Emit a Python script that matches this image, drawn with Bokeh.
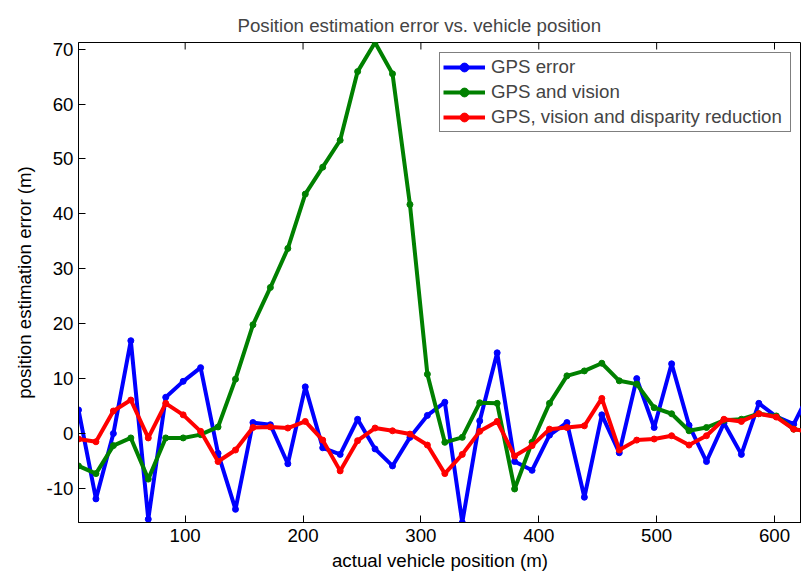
from bokeh.plotting import figure
from bokeh.models import Range1d, FixedTicker, Legend
from bokeh.embed import file_html
from bokeh.resources import INLINE

# actual vehicle position (m)
position = [9.5, 24.3, 39.1, 53.9, 68.7, 83.5, 98.3, 113.1, 127.9, 142.7,
            157.5, 172.3, 187.1, 201.9, 216.7, 231.5, 246.3, 261.1, 275.9, 290.7,
            305.5, 320.3, 335.1, 349.9, 364.7, 379.5, 394.3, 409.1, 423.9, 438.7,
            453.5, 468.3, 483.1, 497.9, 512.7, 527.5, 542.3, 557.1, 571.9, 586.7,
            601.5, 616.3, 631.1]

gps_error = [4.3, -11.9, 0.0, 16.9, -15.6, 6.6, 9.5, 12.0, -3.6, -13.8,
             2.0, 1.6, -5.5, 8.5, -2.6, -3.8, 2.6, -2.8, -5.9, -0.7,
             3.3, 5.7, -16.2, 2.3, 14.7, -5.1, -6.7, -0.3, 2.0, -11.6,
             3.4, -3.5, 10.0, 1.1, 12.7, 1.5, -5.1, 1.9, -3.8, 5.5,
             3.1, 1.7, 8.0]

gps_vision = [-5.9, -7.3, -2.2, -0.8, -8.3, -0.8, -0.8, -0.2, 1.2, 9.9,
              19.8, 26.6, 33.7, 43.6, 48.5, 53.4, 65.9, 71.2, 65.5, 41.7,
              10.8, -1.6, -0.7, 5.6, 5.5, -10.1, -1.6, 5.5, 10.5, 11.4,
              12.8, 9.6, 9.0, 4.7, 3.6, 0.5, 1.1, 2.4, 2.6, 3.6,
              3.2, 0.8, 0.3]

gps_vision_disp = [-1.0, -1.5, 4.1, 6.1, -0.8, 5.5, 3.4, 0.4, -5.1, -3.0,
                   1.1, 1.2, 1.0, 2.2, -1.2, -6.8, -1.3, 1.0, 0.5, -0.1,
                   -2.1, -7.3, -3.8, 0.4, 2.2, -4.1, -2.2, 0.8, 1.1, 1.4,
                   6.4, -3.0, -1.2, -1.0, -0.4, -2.1, -0.4, 2.6, 2.2, 3.6,
                   3.0, 0.8, 0.2]

x_ticks = [100, 200, 300, 400, 500, 600]
y_ticks = [-10, 0, 10, 20, 30, 40, 50, 60, 70]
y_tick_labels = {-10: "-10", 0: "0", 10: "10", 20: "20", 30: "30",
                 40: "40", 50: "50", 60: "60", 70: "70"}

series = [
    ("GPS error", gps_error, "#0000ff"),
    ("GPS and vision", gps_vision, "#008000"),
    ("GPS, vision and disparity reduction", gps_vision_disp, "#ff0000"),
]

FONT = "Liberation Sans"
FS = "18.7px"
X0, X1 = 9.5, 622.9
Y0, Y1 = -16.2, 71.2
FRAME_H = 480
TICK_PX = 7

p = figure(width=801, height=573, output_backend="svg", toolbar_location=None,
           x_range=Range1d(X0, X1), y_range=Range1d(Y0, Y1),
           title="Position estimation error vs. vehicle position",
           min_border_left=78, min_border_right=0, min_border_top=42,
           min_border_bottom=51)

p.title.text_font = FONT
p.title.text_font_size = FS
p.title.text_font_style = "normal"
p.title.align = "left"
p.title.offset = 159
p.title.vertical_align = "top"
p.title.standoff = 10

p.grid.visible = False
p.outline_line_color = "black"
p.outline_line_width = 1
p.background_fill_color = "white"
p.border_fill_color = "white"

items = []
for name, ys, col in series:
    r1 = p.line(position, ys, line_color=col, line_width=4)
    r2 = p.scatter(position, ys, size=6, fill_color=col, line_color=col)
    items.append((name, [r1, r2]))

# inward ticks on the top edge of the box (as in the original)
tick_len = TICK_PX * (Y1 - Y0) / FRAME_H
p.segment(x0=x_ticks, x1=x_ticks, y0=[Y1] * len(x_ticks),
          y1=[Y1 - tick_len] * len(x_ticks), line_color="black", line_width=1)

for ax in (p.xaxis[0], p.yaxis[0]):
    ax.major_label_text_font = FONT
    ax.major_label_text_font_size = FS
    ax.axis_label_text_font = FONT
    ax.axis_label_text_font_size = FS
    ax.axis_label_text_font_style = "normal"
    ax.major_tick_in = TICK_PX
    ax.major_tick_out = 0
    ax.minor_tick_line_color = None
    ax.axis_line_color = "black"
    ax.major_label_text_color = "black"
    ax.axis_label_text_color = "black"

p.xaxis[0].ticker = FixedTicker(ticks=x_ticks)
p.yaxis[0].ticker = FixedTicker(ticks=y_ticks)
p.yaxis[0].major_label_overrides = y_tick_labels
p.xaxis[0].axis_label = "actual vehicle position (m)"
p.yaxis[0].axis_label = "position estimation error (m)"
p.xaxis[0].major_label_standoff = 6
p.yaxis[0].major_label_standoff = 5
p.xaxis[0].axis_label_standoff = 5
p.yaxis[0].axis_label_standoff = 8

legend = Legend(items=items, location="top_right")
legend.label_text_font = FONT
legend.label_text_font_size = FS
legend.border_line_color = "black"
legend.border_line_width = 1
legend.background_fill_alpha = 1
legend.glyph_width = 42
legend.glyph_height = 22
legend.label_height = 22
legend.label_width = 296
legend.label_standoff = 6
legend.spacing = 3
legend.padding = 3
legend.margin = 10
p.add_layout(legend)

open("out.html", "w").write(file_html(p, INLINE))
